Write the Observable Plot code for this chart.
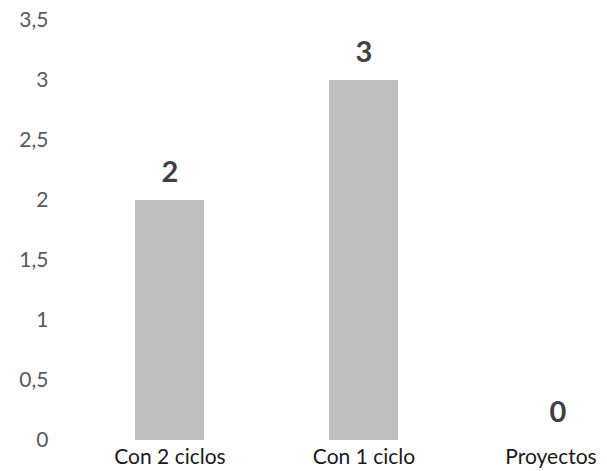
<!DOCTYPE html>
<html>
<head>
<meta charset="utf-8">
<script src="https://cdn.jsdelivr.net/npm/d3@7"></script>
<script src="https://cdn.jsdelivr.net/npm/@observablehq/plot@0.6"></script>
<style>
  html, body { margin: 0; padding: 0; background: #fff; }
</style>
</head>
<body>
<div id="chart"></div>
<script>
const categories = ["Con 2 ciclos", "Con 1 ciclo", "Proyectos"];
const values = [2, 3, 0];
const yTicks = [0, 0.5, 1, 1.5, 2, 2.5, 3, 3.5];

const data = categories.map((c, i) => ({category: c, value: values[i]}));
const fmt = d => String(d).replace(".", ",");
const font = "Lato, 'Open Sans', sans-serif";

const chart = Plot.plot({
  width: 607,
  height: 471,
  marginTop: 20,
  marginBottom: 31,
  marginLeft: 60,
  marginRight: 0,
  style: {fontFamily: font, fontSize: "21px", background: "#fff"},
  x: {domain: categories, range: [72.5, 654.5], paddingInner: 0.6443, paddingOuter: 0.3221, axis: null},
  y: {domain: [0, 3.5], axis: null},
  marks: [
    Plot.barY(data, {x: "category", y: "value", fill: "#bfbfbf"}),
    Plot.axisY({ticks: yTicks, tickFormat: fmt, tickSize: 0, tickPadding: 12, fill: "#595959", fontSize: 21, label: null}),
    Plot.axisX({ticks: categories.slice(0, 2), tickSize: 0, tickPadding: 9, fill: "#1a1a1a", fontSize: 21, label: null}),
    Plot.axisX({ticks: categories.slice(2), tickSize: 0, tickPadding: 9, dx: -7, fill: "#1a1a1a", fontSize: 21, label: null}),
    Plot.text(data, {x: "category", y: "value", text: d => fmt(d.value), dy: -28, fontSize: 29, fontWeight: "bold", fill: "#404040"})
  ]
});
document.getElementById("chart").appendChild(chart);
</script>
</body>
</html>
